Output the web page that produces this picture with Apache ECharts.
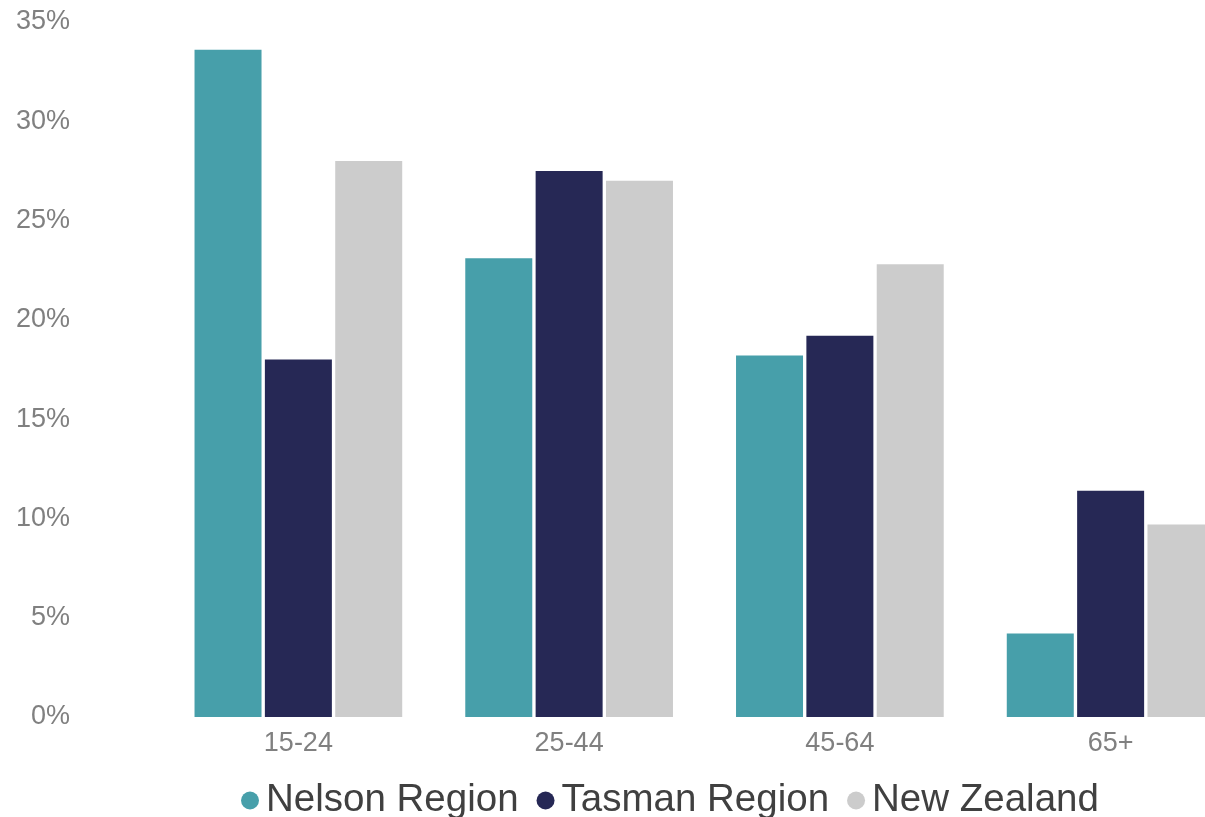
<!DOCTYPE html>
<html>
<head>
<meta charset="utf-8">
<script src="https://cdn.jsdelivr.net/npm/echarts@6/dist/echarts.min.js"></script>
<style>
  html, body { margin: 0; padding: 0; background: #ffffff; overflow: hidden; }
  body { width: 1205px; height: 817px; }
  /* plot runs past the right edge of the page, so the last bar is cut off */
  #chart { width: 1246px; height: 817px; }
</style>
</head>
<body>
<div id="chart"></div>
<script>
// Age groups along the x axis
const ageGroups = ['15-24', '25-44', '45-64', '65+'];

// Share of population in each age group (%)
const nelsonRegion = [33.6, 23.1, 18.2, 4.2];
const tasmanRegion = [18.0, 27.5, 19.2, 11.4];
const newZealand = [28.0, 27.0, 22.8, 9.7];

const seriesNames = ['Nelson Region', 'Tasman Region', 'New Zealand'];
const seriesColors = ['#479FAA', '#262855', '#CCCCCC'];

const FONT = '"Liberation Sans", Arial, sans-serif';

const chart = echarts.init(document.getElementById('chart'), null, { renderer: 'canvas' });

const seriesData = [nelsonRegion, tasmanRegion, newZealand];

chart.setOption({
  animation: false,
  backgroundColor: '#ffffff',
  textStyle: { fontFamily: FONT },
  grid: { left: 163, right: 0, top: 22, bottom: 100 },
  legend: {
    data: seriesNames,
    left: 236,
    top: 776,
    icon: 'circle',
    itemWidth: 22,
    itemHeight: 18,
    itemGap: 18,
    textStyle: { fontFamily: FONT, fontSize: 38.5, color: '#404040' }
  },
  xAxis: {
    type: 'category',
    data: ageGroups,
    axisLine: { show: false },
    axisTick: { show: false },
    axisLabel: { fontFamily: FONT, fontSize: 27, color: '#808080', margin: 13 }
  },
  yAxis: {
    type: 'value',
    min: 0,
    max: 35,
    interval: 5,
    splitLine: { show: false },
    axisLine: { show: false },
    axisTick: { show: false },
    axisLabel: {
      fontFamily: FONT,
      fontSize: 27,
      color: '#808080',
      margin: 93,
      formatter: '{value}%'
    }
  },
  series: seriesNames.map((name, i) => ({
    name: name,
    type: 'bar',
    data: seriesData[i],
    barWidth: 67,
    barGap: '5%',
    itemStyle: { color: seriesColors[i] }
  }))
});
</script>
</body>
</html>
